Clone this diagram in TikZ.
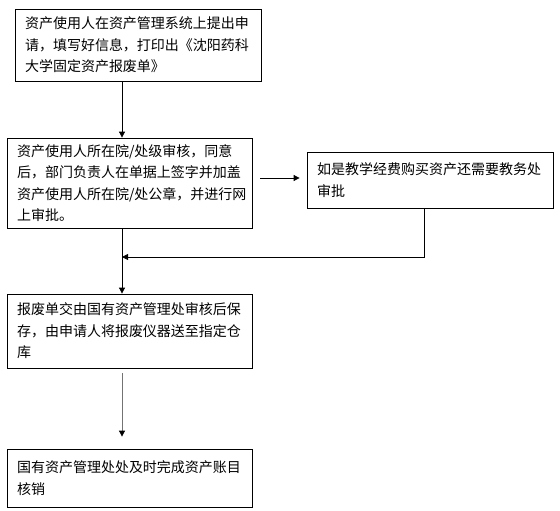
\documentclass[tikz,border=0pt]{standalone}
\usepackage{fontspec}
\newfontfamily\cjk{Noto Sans CJK SC}
\usetikzlibrary{arrows.meta}
\tikzset{
  box/.style = {draw, line width=0.8pt, fill=white, inner xsep=10pt, inner ysep=2pt,
                align=left, font=\cjk\fontsize{14}{21.5}\selectfont},
  arr/.style = {-{Triangle[length=6pt,width=6pt,black]}, line width=0.8pt},
}
\begin{document}
\begin{tikzpicture}[x=1pt,y=-1pt]
  \useasboundingbox (0,0) rectangle (560,511);
  \node[box, text width=226pt, minimum height=72pt] (apply) at (138,45)
    {资产使用人在资产管理系统上提出申\\请，填写好信息，打印出《沈阳药科\\大学固定资产报废单》};
  \node[box, text width=225pt, minimum height=90pt] (dept) at (129.5,183)
    {资产使用人所在院/处级审核，同意\\后，部门负责人在单据上签字并加盖\\资产使用人所在院/处公章，并进行网\\上审批。};
  \node[box, text width=226pt, minimum height=56pt] (teach) at (430,180)
    {如是教学经费购买资产还需要教务处\\审批};
  \node[box, text width=225pt, minimum height=74pt] (store) at (129.5,331)
    {报废单交由国有资产管理处审核后保\\存，由申请人将报废仪器送至指定仓\\库};
  \node[box, text width=225pt, minimum height=58pt] (cancel) at (129.5,478)
    {国有资产管理处处及时完成资产账目\\核销};
  \coordinate (spine) at (122,0);
  \coordinate (side) at (0,178);
  \coordinate (back) at (424,257);
  \draw[arr] (apply.south -| spine) -- (dept.north -| spine);
  \draw[arr, shorten <=8pt, shorten >=7pt] (dept.east |- side) -- (teach.west |- side);
  \draw[arr] (teach.south -| back) |- (spine |- back);
  \draw[arr] (dept.south -| spine) -- (store.north -| spine);
  \draw[arr, black!55, shorten <=5pt, shorten >=12pt] (store.south -| spine) -- (cancel.north -| spine);
\end{tikzpicture}
\end{document}
